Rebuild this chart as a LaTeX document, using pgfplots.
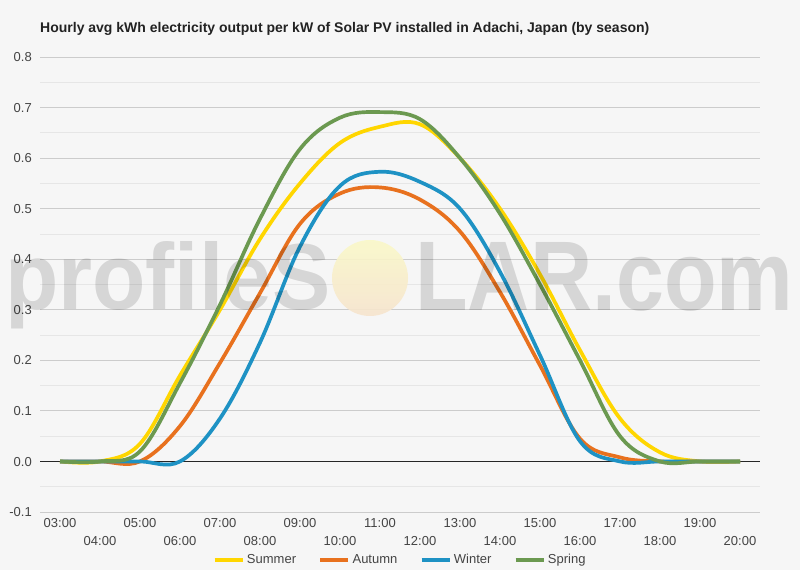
\documentclass[border=0pt]{standalone}
\usepackage{pgfplots}
\pgfplotsset{compat=1.18}
\usepackage{pgfplotstable}
\usepackage{fontspec}
\setmainfont{Liberation Sans}
\definecolor{cSummer}{RGB}{255,214,0}
\definecolor{cAutumn}{RGB}{232,113,30}
\definecolor{cWinter}{RGB}{30,146,196}
\definecolor{cSpring}{RGB}{107,153,80}
\definecolor{bg}{RGB}{246,246,246}
\definecolor{tickc}{RGB}{68,68,68}
\definecolor{gmaj}{RGB}{204,204,204}
\definecolor{gmin}{RGB}{230,230,230}
\definecolor{sunA}{RGB}{250,248,200}
\definecolor{sunB}{RGB}{247,228,205}

\pgfplotstableread{
h summer autumn winter spring
3 0 0 0 0
4 0 0 0 0
5 0.035 0 0 0.02
6 0.17 0.07 0 0.155
7 0.30 0.195 0.085 0.31
8 0.44 0.333 0.235 0.48
9 0.55 0.47 0.425 0.618
10 0.63 0.53 0.545 0.68
11 0.662 0.542 0.573 0.691
12 0.667 0.518 0.553 0.677
13 0.60 0.455 0.50 0.60
14 0.50 0.335 0.375 0.49
15 0.37 0.19 0.21 0.35
16 0.22 0.045 0.04 0.20
17 0.085 0.008 0 0.05
18 0.018 0 0 0
19 0 0 0 0
20 0 0 0 0
}\data

\begin{document}
\begin{tikzpicture}
\fill[bg] (0,0) rectangle (800pt,570pt);
\useasboundingbox (0,0) rectangle (800pt,570pt);
\node[anchor=base west, inner sep=0pt, font=\bfseries\fontsize{14}{16}\selectfont, text={rgb,255:red,34;green,34;blue,34}] at (40pt,537pt) {Hourly avg kWh electricity output per kW of Solar PV installed in Adachi, Japan (by season)};
\begin{axis}[
  at={(40pt,58pt)}, anchor=south west,
  scale only axis, width=720pt, height=455pt,
  xmin=2.5, xmax=20.5, ymin=-0.1, ymax=0.8,
  axis line style={draw=none},
  tick style={draw=none},
  major tick length=0pt, minor tick length=0pt,
  ytick={-0.1,0,0.1,0.2,0.3,0.4,0.5,0.6,0.7,0.8},
  yticklabels={-0.1,0.0,0.1,0.2,0.3,0.4,0.5,0.6,0.7,0.8},
  minor ytick={-0.05,0.05,0.15,0.25,0.35,0.45,0.55,0.65,0.75},
  ymajorgrids, yminorgrids,
  major grid style={draw=gmaj, line width=0.8pt},
  minor grid style={draw=gmin, line width=0.8pt},
  yticklabel style={font=\fontsize{13}{15}\selectfont, text=tickc, anchor=base east, inner sep=0pt, xshift=-8pt, yshift=-4.6pt},
  xtick={3,5,7,9,11,13,15,17,19},
  xticklabels={03:00,05:00,07:00,09:00,11:00,13:00,15:00,17:00,19:00},
  extra x ticks={4,6,8,10,12,14,16,18,20},
  extra x tick labels={04:00,06:00,08:00,10:00,12:00,14:00,16:00,18:00,20:00},
  extra x tick style={xticklabel style={yshift=-18pt}, grid=none},
  xticklabel style={font=\fontsize{13}{15}\selectfont, text=tickc, anchor=base, inner sep=0pt, yshift=-15.6pt},
  legend columns=4,
  legend style={at={(0.5,-0.1055)}, anchor=center, draw=none, fill=none,
    font=\fontsize{13}{15}\selectfont, text=tickc,
    /tikz/every even column/.append style={column sep=20pt}},
  legend image code/.code={\draw[#1, line width=4.5pt] (0pt,0pt) -- (28pt,0pt);},
  every axis plot/.append style={line width=3.7pt, smooth, tension=0.6},
]
\draw[black!85, line width=0.8pt] (axis cs:2.5,0) -- (axis cs:20.5,0);
\addplot[cSummer] table[x=h, y=summer] {\data};
\addlegendentry{Summer}
\addplot[cAutumn] table[x=h, y=autumn] {\data};
\addlegendentry{Autumn}
\addplot[cWinter] table[x=h, y=winter] {\data};
\addlegendentry{Winter}
\addplot[cSpring] table[x=h, y=spring] {\data};
\addlegendentry{Spring}
\end{axis}
\node[anchor=base west, inner sep=0pt, text=black, text opacity=0.13] at (5pt,260pt) {\resizebox{325pt}{68pt}{\bfseries profileS}};
\shade[top color=sunA, bottom color=sunB, opacity=0.9] (370pt,292pt) circle (38pt);
\node[anchor=base west, inner sep=0pt, text=black, text opacity=0.13] at (415pt,259pt) {\resizebox{378pt}{68pt}{\bfseries LAR.com}};
\end{tikzpicture}
\end{document}
